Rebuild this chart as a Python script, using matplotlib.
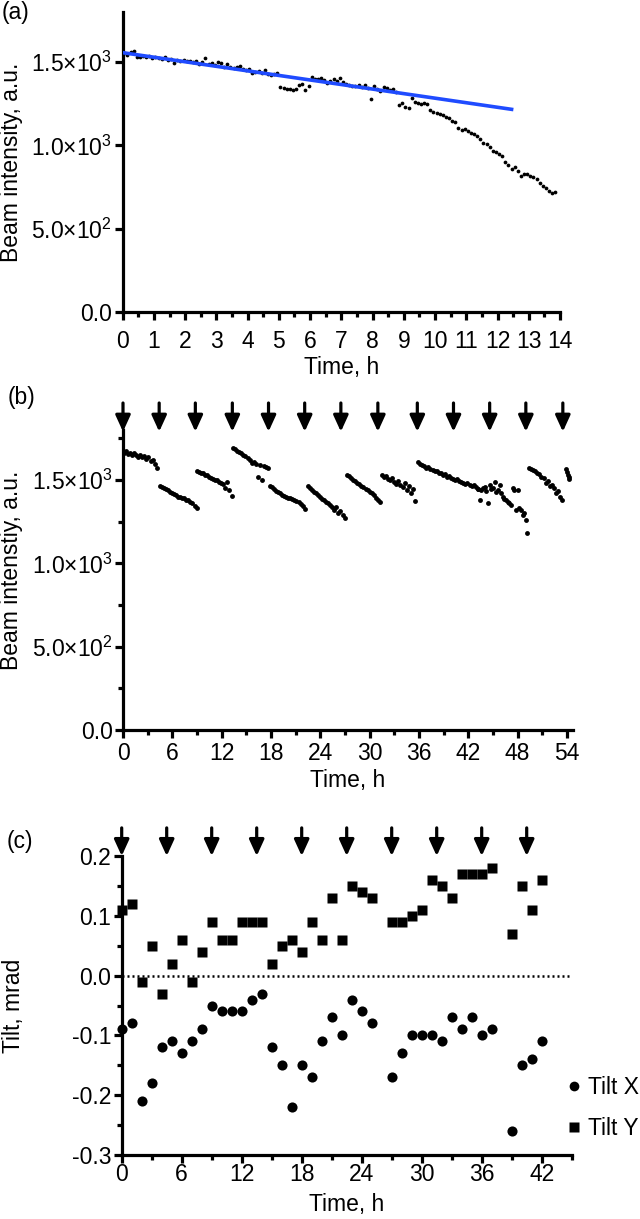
import numpy as np
import matplotlib.pyplot as plt
from matplotlib.ticker import MultipleLocator, FixedLocator, FixedFormatter, FormatStrFormatter
from matplotlib.lines import Line2D

plt.rcParams['font.family'] = ['Liberation Sans', 'DejaVu Sans']
plt.rcParams['font.size'] = 16.5
plt.rcParams['mathtext.fontset'] = 'custom'
plt.rcParams['mathtext.rm'] = 'Liberation Sans'
plt.rcParams['mathtext.it'] = 'Liberation Sans:italic'
plt.rcParams['axes.unicode_minus'] = False

# ---- data -------------------------------------------------------------
# (a) beam intensity, one reading every 0.1 h starting at 0.05 h
a_intensity = [
    1552, 1540, 1560, 1566, 1530, 1528, 1538, 1530, 1534, 1524,
    1530, 1522, 1518, 1528, 1514, 1520, 1494, 1512, 1508, 1510,
    1506, 1508, 1498, 1506, 1486, 1500, 1522, 1490, 1496, 1482,
    1500, 1492, 1468, 1488, 1472, 1462, 1468, 1476, 1458, 1450,
    1460, 1432, 1440, 1446, 1434, 1452, 1430, 1420, 1426, 1432,
    1350, 1344, 1336, 1340, 1334, 1336, 1360, 1370, 1332, 1358,
    1408, 1400, 1398, 1404, 1394, 1376, 1388, 1396, 1384, 1406,
    1380, 1366, 1360, 1358, 1358, 1362, 1348, 1362, 1344, 1278,
    1354, 1340, 1328, 1350, 1346, 1334, 1340, 1320, 1244, 1256,
    1232, 1224, 1282, 1258, 1252, 1248, 1256, 1246, 1210, 1200,
    1196, 1190, 1184, 1172, 1162, 1146, 1140, 1104, 1092, 1098,
    1086, 1074, 1066, 1056, 1040, 1012, 1010, 990, 968, 962,
    950, 936, 900, 880, 856, 870, 844, 818, 828, 826,
    818, 810, 796, 772, 758, 744, 728, 716, 720,
]
a_start, a_step = 0.05, 0.1
a_fit_time = [0.0, 12.45]
a_fit_value = [1556, 1216]

# (b) beam intensity after each re-alignment, 0.25 h between readings
b_step = 0.25
b_seg_start = [0.1, 4.45, 8.95, 13.4, 17.85, 22.45, 27.25, 31.5, 35.9, 49.4]
b_seg1 = [1665, 1672, 1655, 1660, 1648, 1662, 1650, 1640, 1652, 1636,
          1645, 1628, 1638, 1615, 1622, 1598, 1572]
b_seg2 = [1462, 1458, 1455, 1448, 1440, 1430, 1422, 1414, 1410, 1400,
          1398, 1392, 1395, 1380, 1378, 1370, 1362, 1345, 1330]
b_seg3 = [1556, 1550, 1544, 1540, 1532, 1528, 1520, 1512, 1505, 1498,
          1500, 1488, 1480, 1476, 1452, 1490, 1440, 1404]
b_seg4 = [1692, 1684, 1676, 1670, 1660, 1648, 1642, 1630, 1622, 1600,
          1610, 1598, 1520, 1590, 1500, 1585, 1578, 1570]
b_seg5 = [1462, 1456, 1444, 1436, 1430, 1420, 1412, 1404, 1400, 1394,
          1390, 1386, 1380, 1374, 1366, 1354, 1342, 1326]
b_seg6 = [1462, 1452, 1440, 1428, 1420, 1410, 1396, 1388, 1378, 1370,
          1360, 1350, 1340, 1320, 1336, 1300, 1316, 1290, 1272]
b_seg7 = [1530, 1522, 1512, 1500, 1494, 1484, 1476, 1466, 1458, 1446,
          1440, 1428, 1420, 1408, 1394, 1380, 1366]
b_seg8 = [1532, 1520, 1526, 1508, 1498, 1510, 1488, 1476, 1494, 1468,
          1456, 1480, 1440, 1462, 1420, 1448, 1372]
b_seg9 = [1610, 1598, 1590, 1585, 1574, 1580, 1566, 1560, 1552, 1556,
          1540, 1544, 1530, 1534, 1520, 1524, 1512, 1506, 1500, 1508,
          1494, 1490, 1484, 1476, 1480, 1468, 1462, 1470, 1456, 1448]
b_seg10 = [1572, 1566, 1560, 1552, 1540, 1536, 1520, 1510, 1480, 1494,
           1466, 1470, 1450, 1420, 1436, 1400, 1378]
b_segments = [b_seg1, b_seg2, b_seg3, b_seg4, b_seg5,
              b_seg6, b_seg7, b_seg8, b_seg9, b_seg10]
b_noisy_time = [43.2, 43.4, 43.6, 43.8, 44.0, 44.2, 44.4, 44.6, 44.8, 45.0,
                45.2, 45.4, 45.6, 45.8, 46.0, 46.2, 46.4, 46.6, 46.8, 47.0,
                47.2, 47.4, 47.6, 47.8, 48.0, 48.2, 48.4, 48.6, 48.8, 49.0, 49.1]
b_noisy_value = [1446, 1380, 1440, 1452, 1460, 1436, 1362, 1470, 1444, 1450,
                 1490, 1430, 1440, 1470, 1420, 1400, 1388, 1380, 1370, 1360,
                 1350, 1452, 1440, 1318, 1440, 1330, 1320, 1290, 1300, 1260, 1182]
b_tail_time = [53.9, 54.0, 54.1, 54.2, 54.3]
b_tail_value = [1568, 1548, 1532, 1516, 1504]
b_arrows = [0, 4.4, 8.8, 13.3, 17.7, 22.1, 26.5, 31.0, 35.8, 40.2, 44.6, 49.0, 53.5]

# (c) tilt
c_time = [0, 1, 2, 3, 4, 5, 6, 7, 8, 9, 10, 11, 12, 13, 14, 15, 16, 17, 18, 19,
          20, 21, 22, 23, 24, 25, 27, 28, 29, 30, 31, 32, 33, 34, 35, 36, 37,
          39, 40, 41, 42]
tilt_x = [-0.09, -0.08, -0.21, -0.18, -0.12, -0.11, -0.13, -0.11, -0.09, -0.05,
          -0.06, -0.06, -0.06, -0.04, -0.03, -0.12, -0.15, -0.22, -0.15, -0.17,
          -0.11, -0.07, -0.10, -0.04, -0.06, -0.08, -0.17, -0.13, -0.10, -0.10,
          -0.10, -0.11, -0.07, -0.09, -0.07, -0.10, -0.09, -0.26, -0.15, -0.14,
          -0.11]
tilt_y = [0.11, 0.12, -0.01, 0.05, -0.03, 0.02, 0.06, -0.01, 0.04, 0.09,
          0.06, 0.06, 0.09, 0.09, 0.09, 0.02, 0.05, 0.06, 0.04, 0.09,
          0.06, 0.13, 0.06, 0.15, 0.14, 0.13, 0.09, 0.09, 0.10, 0.11,
          0.16, 0.15, 0.13, 0.17, 0.17, 0.17, 0.18, 0.07, 0.15, 0.11,
          0.16]
c_arrows = [0, 4.5, 9, 13.5, 18, 22.5, 27, 31.5, 36, 40.5]

int_ticks = [0, 500, 1000, 1500]
int_labels = ['0.0', '5.0×10$^2$', '1.0×10$^3$', '1.5×10$^3$']

# ---- figure -----------------------------------------------------------
W, H = 640, 1219
fig = plt.figure(figsize=(W / 100, H / 100), dpi=100)
ax_a = fig.add_axes([122.7 / W, 1 - 312 / H, 437.3 / W, 300 / H])
ax_b = fig.add_axes([123 / W, 1 - 730 / H, 449.7 / W, 300 / H])
ax_c = fig.add_axes([121.7 / W, 1 - 1155 / H, 450 / W, 299 / H])


def style(ax, xpad):
    for s in ['top', 'right']:
        ax.spines[s].set_visible(False)
    for s in ['left', 'bottom']:
        ax.spines[s].set_linewidth(2.3)
    ax.tick_params(which='major', length=6, width=2.3)
    ax.tick_params(which='minor', length=3.5, width=2.3)
    ax.tick_params(axis='x', which='both', pad=xpad)
    ax.tick_params(axis='y', which='both', pad=1.5)


def draw_arrows(ax, xs, tail, tip):
    for x in xs:
        ax.annotate('', xy=(x, tip), xytext=(x, tail), annotation_clip=False,
                    arrowprops=dict(arrowstyle='-|>,head_length=0.7,head_width=0.32',
                                    mutation_scale=14, lw=2.3, color='black',
                                    shrinkA=0, shrinkB=0))


# (a)
a_time = np.round(a_start + a_step * np.arange(len(a_intensity)), 2)
ax_a.plot(a_time, a_intensity, 'o', ms=2.7, color='black', mec='none', clip_on=False)
ax_a.plot(a_fit_time, a_fit_value, color='#1f4bff', lw=2.6, zorder=3)
ax_a.set_xlim(0, 14)
ax_a.set_ylim(0, 1800)
ax_a.xaxis.set_major_locator(MultipleLocator(1))
ax_a.xaxis.set_minor_locator(MultipleLocator(0.5))
ax_a.yaxis.set_major_locator(FixedLocator(int_ticks))
ax_a.yaxis.set_major_formatter(FixedFormatter(int_labels))
ax_a.set_xlabel('Time, h', labelpad=2)
ax_a.set_ylabel('Beam intensity, a.u.')
ax_a.yaxis.set_label_coords(-0.228, 0.5)
style(ax_a, 7)

# (b)
for start, seg in zip(b_seg_start, b_segments):
    t = start + b_step * np.arange(len(seg))
    ax_b.plot(t, seg, 'o', ms=3.5, color='black', mec='none')
ax_b.plot(b_noisy_time, b_noisy_value, 'o', ms=3.5, color='black', mec='none')
ax_b.plot(b_tail_time, b_tail_value, 'o', ms=3.5, color='black', mec='none')
ax_b.set_xlim(0, 54.7)
ax_b.set_ylim(0, 1800)
ax_b.xaxis.set_major_locator(MultipleLocator(6))
ax_b.xaxis.set_minor_locator(MultipleLocator(3))
ax_b.yaxis.set_major_locator(FixedLocator(int_ticks))
ax_b.yaxis.set_major_formatter(FixedFormatter(int_labels))
ax_b.yaxis.set_minor_locator(MultipleLocator(250))
ax_b.set_xlabel('Time, h', labelpad=3)
ax_b.set_ylabel('Beam intenstiy, a.u.')
ax_b.yaxis.set_label_coords(-0.222, 0.533)
style(ax_b, 2.5)
draw_arrows(ax_b, b_arrows, 1962, 1790)

# (c)
ax_c.axhline(0, color='black', lw=1.8, ls=(0, (0.8, 1.2)))
ax_c.plot(c_time, tilt_x, 'o', ms=7.3, color='black', mec='none', clip_on=False)
ax_c.plot(c_time, tilt_y, 's', ms=6.8, color='black', mec='none', clip_on=False)
ax_c.set_xlim(0, 45)
ax_c.set_ylim(-0.3, 0.2)
ax_c.xaxis.set_major_locator(FixedLocator(np.arange(0, 43, 6)))
ax_c.xaxis.set_minor_locator(MultipleLocator(3))
ax_c.yaxis.set_major_locator(MultipleLocator(0.1))
ax_c.yaxis.set_minor_locator(MultipleLocator(0.05))
ax_c.yaxis.set_major_formatter(FormatStrFormatter('%.1f'))
ax_c.set_xlabel('Time, h', labelpad=5)
ax_c.set_ylabel('Tilt, mrad')
ax_c.yaxis.set_label_coords(-0.215, 0.5)
style(ax_c, 0)
draw_arrows(ax_c, c_arrows, 0.247, 0.2)

handles = [Line2D([], [], ls='none', marker='o', ms=7, color='black', mec='none'),
           Line2D([], [], ls='none', marker='s', ms=6.5, color='black', mec='none')]
ax_c.legend(handles, ['Tilt X', 'Tilt Y'], loc='upper left', bbox_to_anchor=(0.99, 0.265),
            frameon=False, handlelength=0.55, handletextpad=0.35, labelspacing=0.8,
            borderpad=0, borderaxespad=0)

fig.text(2 / W, 1 - 1 / H, '(a)', va='top', ha='left')
fig.text(8 / W, 1 - 386 / H, '(b)', va='top', ha='left')
fig.text(7 / W, 1 - 830 / H, '(c)', va='top', ha='left')

fig.savefig('out.png', dpi=100)
